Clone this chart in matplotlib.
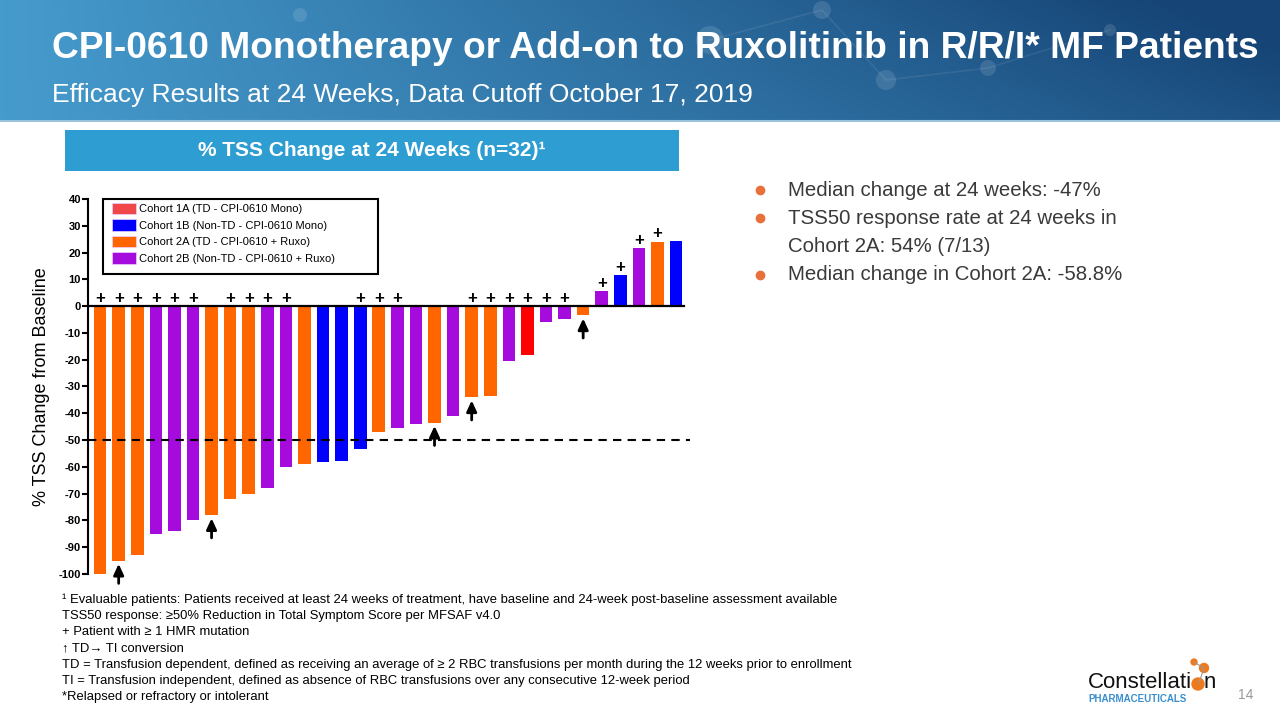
import numpy as np
import matplotlib
matplotlib.use("Agg")
import matplotlib.pyplot as plt
from matplotlib.patches import Patch, Rectangle, Circle
from matplotlib.lines import Line2D

plt.rcParams['font.family'] = ['Liberation Sans', 'DejaVu Sans']

# % TSS change per patient, sorted as in the waterfall
tss_change = [-100, -95, -93, -85, -84, -80, -78, -72, -70, -68, -60, -59,
              -58.3, -57.7, -53.4, -47, -45.6, -44, -43.5, -41, -34, -33.5,
              -20.5, -18.3, -6, -4.9, -3.4, 5.6, 11.6, 21.6, 24.1, 24.3]
cohort = ['2A', '2A', '2A', '2B', '2B', '2B', '2A', '2A', '2A', '2B', '2B', '2A',
          '1B', '1B', '1B', '2A', '2B', '2B', '2A', '2B', '2A', '2A',
          '2B', '1A', '2B', '2B', '2A', '2B', '1B', '2B', '2A', '1B']
# 1 = patient with >= 1 HMR mutation
hmr = [1, 1, 1, 1, 1, 1, 0, 1, 1, 1, 1, 0,
       0, 0, 1, 1, 1, 0, 0, 0, 1, 1,
       1, 1, 1, 1, 0, 1, 1, 1, 1, 0]
# 1 = TD -> TI conversion
td_ti = [0, 1, 0, 0, 0, 0, 1, 0, 0, 0, 0, 0,
         0, 0, 0, 0, 0, 0, 1, 0, 1, 0,
         0, 0, 0, 0, 1, 0, 0, 0, 0, 0]

cohort_names = ['1A', '1B', '2A', '2B']
cohort_labels = ['Cohort 1A (TD - CPI-0610 Mono)', 'Cohort 1B (Non-TD - CPI-0610 Mono)',
                 'Cohort 2A (TD - CPI-0610 + Ruxo)', 'Cohort 2B (Non-TD - CPI-0610 + Ruxo)']
cohort_colors = {'1A': '#FF0000', '1B': '#0000FF', '2A': '#FF6600', '2B': '#A60BDE'}
legend_colors = {'1A': '#F04848', '1B': '#0000FF', '2A': '#FF6600', '2B': '#A60BDE'}

bullets = ['Median change at 24 weeks: -47%',
           'TSS50 response rate at 24 weeks in\nCohort 2A: 54% (7/13)',
           'Median change in Cohort 2A: -58.8%']

footnotes = ['\u00b9 Evaluable patients: Patients received at least 24 weeks of treatment, have baseline and 24-week post-baseline assessment available',
             'TSS50 response: \u226550% Reduction in Total Symptom Score per MFSAF v4.0',
             '+ Patient with \u2265 1 HMR mutation',
             '\u2191 TD\u2192 TI conversion',
             'TD = Transfusion dependent, defined as receiving an average of \u2265 2 RBC transfusions per month during the 12 weeks prior to enrollment',
             'TI = Transfusion independent, defined as absence of RBC transfusions over any consecutive 12-week period',
             '*Relapsed or refractory or intolerant']

W, H = 1280, 720
fig = plt.figure(figsize=(12.8, 7.2), dpi=100)


def fx(px):
    return px / W


def fy(py):
    return 1 - py / H


# ---- header band ----
hdr = fig.add_axes([0, fy(120), 1, 120 / H])
xs = np.linspace(0, 1, 400)
ys = np.linspace(0, 1, 60)[:, None]
left = np.array([70, 155, 205]) / 255
right = np.array([22, 68, 118]) / 255
t = np.clip(xs[None, :] * 0.85 + (1 - ys) * 0.25 * xs[None, :], 0, 1)
grad = left[None, None, :] * (1 - t[..., None]) + right[None, None, :] * t[..., None]
hdr.imshow(grad, aspect='auto', extent=[0, W, 120, 0])
for (cx, cy, r) in [(710, 40, 14), (822, 10, 9), (886, 80, 10), (988, 68, 8), (1110, 30, 6), (300, 15, 7)]:
    hdr.add_patch(Circle((cx, cy), r, color='white', alpha=0.12, lw=0))
hdr.plot([710, 822, 886, 988, 1110], [40, 10, 80, 68, 30], color='white', alpha=0.08, lw=1.2)
hdr.set_xlim(0, W)
hdr.set_ylim(120, 0)
hdr.axis('off')
fig.add_artist(Line2D([0, 1], [fy(121)] * 2, color='#9cc3dc', lw=1.5))

fig.text(fx(52), fy(48), 'CPI-0610 Monotherapy or Add-on to Ruxolitinib in R/R/I* MF Patients',
         color='white', fontsize=26.7, fontweight='bold', va='center', ha='left')
fig.text(fx(52), fy(95), 'Efficacy Results at 24 Weeks, Data Cutoff October 17, 2019',
         color='white', fontsize=19, va='center', ha='left')

# ---- chart title box ----
fig.add_artist(Rectangle((fx(65), fy(171)), 614 / W, 41 / H, transform=fig.transFigure,
                         color='#2E9ED2', lw=0))
fig.text(fx(372), fy(151), '% TSS Change at 24 Weeks (n=32)\u00b9', color='white',
         fontsize=15, fontweight='bold', ha='center', va='center')

# ---- waterfall ----
ax = fig.add_axes([fx(88), fy(574), 602 / W, 375 / H])
x = np.arange(len(tss_change))
ax.bar(x, tss_change, width=0.68, color=[cohort_colors[c] for c in cohort], lw=0)
ax.axhline(0, color='black', lw=1.6, xmax=0.99)
ax.axhline(-50, color='black', lw=1.5, ls=(0, (4, 3)))

for xi, v, h, a in zip(x, tss_change, hmr, td_ti):
    if h:
        yy = 3 if v < 0 else v + 3
        ax.text(xi, yy, '+', ha='center', va='center', fontsize=12, fontweight='bold')
    if a:
        ax.annotate('', xy=(xi, v - 1.2), xytext=(xi, v - 8.5),
                    arrowprops=dict(arrowstyle='-|>,head_length=0.65,head_width=0.3',
                                    color='black', lw=2, shrinkA=0, shrinkB=0))

ax.set_xlim(-0.65, 31.75)
ax.set_ylim(-100, 40)
ax.set_yticks(np.arange(-100, 41, 10))
ax.set_yticklabels([str(v) for v in range(-100, 41, 10)], fontsize=8, fontweight='bold')
ax.tick_params(axis='y', direction='out', length=4, width=1.5, pad=1)
ax.set_xticks([])
for s in ['top', 'right', 'bottom']:
    ax.spines[s].set_visible(False)
ax.spines['left'].set_linewidth(1.5)
ax.set_ylabel('% TSS Change from Baseline', fontsize=13, labelpad=6)

# legend: entries without frame, plus a fixed box as in the slide
handles = [Patch(facecolor=legend_colors[c], edgecolor='#f0d0ff', lw=0.5) for c in cohort_names]
ax.legend(handles, cohort_labels, loc='upper left', bbox_to_anchor=(fx(112), fy(203)),
          bbox_transform=fig.transFigure, borderaxespad=0, borderpad=0, fontsize=8,
          frameon=False, handlelength=2.15, handleheight=1.2, labelspacing=0.45, handletextpad=0.25)
fig.add_artist(Rectangle((fx(103), fy(274)), 275 / W, 75 / H, transform=fig.transFigure,
                         fill=False, edgecolor='black', lw=1.5))

# ---- bullets ----
by = [190, 218, 275]
for yy, txt in zip(by, bullets):
    fig.add_artist(Line2D([fx(760)], [fy(yy)], marker='o', ms=6, color='#E8703A', lw=0))
    for k, line in enumerate(txt.split('\n')):
        fig.text(fx(788), fy(yy + 28 * k), line, color='#3a3a3a', fontsize=14.7, va='center', ha='left')

# ---- footnotes ----
for i, line in enumerate(footnotes):
    fig.text(fx(62), fy(600 + i * 16.2), line, fontsize=9.4, color='black', va='center', ha='left')

# ---- logo & page number ----
fig.text(fx(1088), fy(683), 'Constellati', fontsize=16, color='#111111', va='center', ha='left')
fig.text(fx(1204), fy(683), 'n', fontsize=16, color='#111111', va='center', ha='left')
logo = fig.add_axes([fx(1180), fy(700), 40 / W, 48 / H])
logo.set_xlim(1180, 1220)
logo.set_ylim(700, 652)
logo.axis('off')
logo.plot([1194, 1204, 1199], [662, 668, 683], color='#999999', lw=0.8)
logo.add_patch(Circle((1198, 684), 6, color='#EE7A1E'))
logo.add_patch(Circle((1204, 668), 4.5, color='#EE7A1E'))
logo.add_patch(Circle((1194, 662), 3, color='#EE7A1E'))
fig.text(fx(1088), fy(699), 'PHARMACEUTICALS', fontsize=7, fontweight='bold',
         family=['Liberation Sans Narrow', 'Liberation Sans'], color='#3A8FCF', va='center', ha='left')
fig.text(fx(1246), fy(695), '14', fontsize=10, color='#999999', va='center', ha='center')

fig.savefig('out.png', dpi=100)
